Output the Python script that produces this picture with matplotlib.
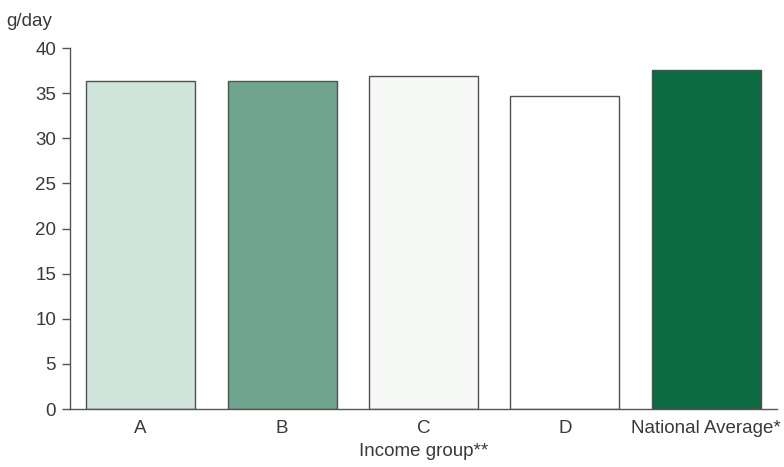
import matplotlib
matplotlib.use("Agg")
import matplotlib.pyplot as plt
from matplotlib import font_manager

categories = ["A", "B", "C", "D", "National Average*"]
values = [36.3, 36.3, 36.9, 34.7, 37.6]
bar_colors = ["#cfe4da", "#6fa58e", "#f6f8f6", "#ffffff", "#0c6b40"]
yticks = [0, 5, 10, 15, 20, 25, 30, 35, 40]

names = {f.name for f in font_manager.fontManager.ttflist}
family = "Liberation Sans Narrow" if "Liberation Sans Narrow" in names else "Liberation Sans"
plt.rcParams["font.family"] = [family, "DejaVu Sans"]

text_color = "#3a3a3a"
line_color = "#555555"

fig = plt.figure(figsize=(7.84, 4.67), dpi=100)
ax = fig.add_axes([0.0893, 0.124, 0.9017, 0.773])

x = list(range(len(categories)))
ax.bar(x, values, width=0.77, color=bar_colors, edgecolor="#505050", linewidth=1.0, zorder=2)

ax.set_xlim(-0.5, 4.5)
ax.set_ylim(0, 40)
ax.set_yticks(yticks)
ax.set_yticklabels([str(t) for t in yticks], fontsize=13.5, color=text_color)
ax.set_xticks(x)
ax.set_xticklabels(categories, fontsize=13.5, color=text_color)
ax.tick_params(axis="x", length=0, pad=8)
ax.tick_params(axis="y", length=6, width=1, color=line_color, pad=4)

for side in ("top", "right"):
    ax.spines[side].set_visible(False)
for side in ("left", "bottom"):
    ax.spines[side].set_color(line_color)
    ax.spines[side].set_linewidth(1.0)

ax.set_xlabel("Income group**", fontsize=13.5, color=text_color, labelpad=4)
fig.text(0.008, 0.955, "g/day", fontsize=13.5, color=text_color, ha="left", va="center")

fig.savefig("out.png", dpi=100)
